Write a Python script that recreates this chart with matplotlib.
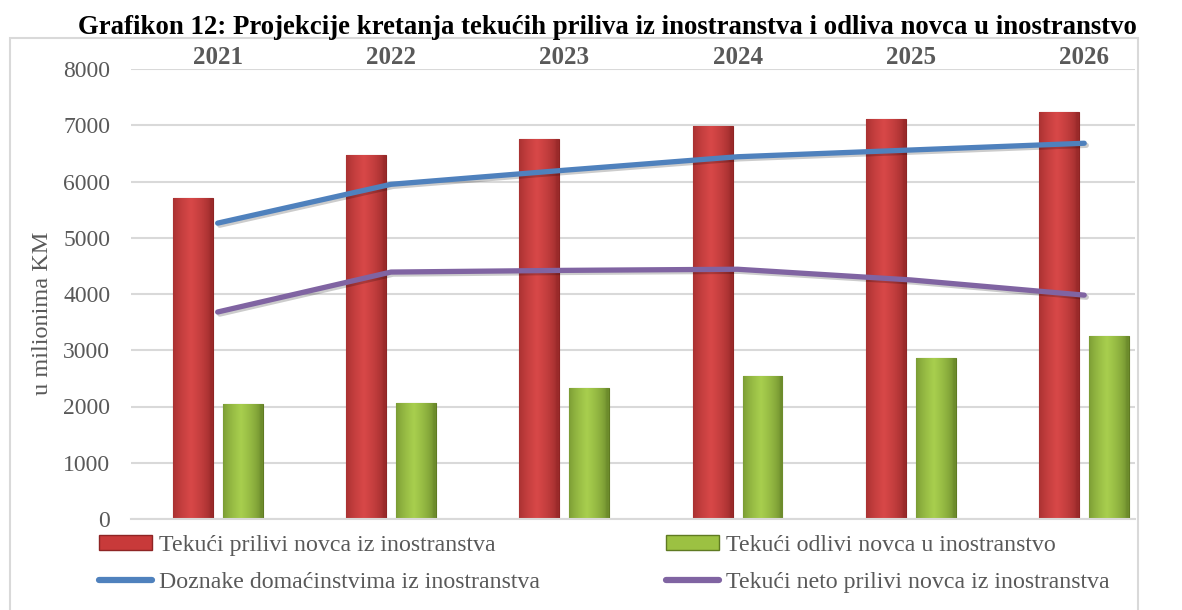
import numpy as np
import matplotlib.pyplot as plt
from matplotlib.patches import Patch, Rectangle
from matplotlib.lines import Line2D
import matplotlib.transforms as mtransforms
import matplotlib.patheffects as pe

plt.rcParams['font.family'] = ['Liberation Serif', 'DejaVu Serif']

godine = ['2021', '2022', '2023', '2024', '2025', '2026']
prilivi = [5700, 6470, 6750, 6990, 7110, 7230]
odlivi = [2040, 2060, 2330, 2540, 2860, 3250]
doznake = [5260, 5950, 6200, 6440, 6560, 6680]
neto = [3680, 4390, 4420, 4440, 4250, 3980]

serije = ['Tekući prilivi novca iz inostranstva',
          'Tekući odlivi novca u inostranstvo',
          'Doznake domaćinstvima iz inostranstva',
          'Tekući neto prilivi novca iz inostranstva']

siva = '#595959'
mreza = '#d9d9d9'


def gradijent(ax, patch, tamna, svetla):
    # horizontalni prelaz boje unutar stubca (imitacija Excel efekta)
    x0, y0 = patch.get_x(), patch.get_y()
    w, h = patch.get_width(), patch.get_height()
    t = np.linspace(0, 1, 64)
    prof = np.clip(1 - np.abs(t - 0.45) / 0.5, 0, 1) ** 0.6
    c1 = np.array(plt.matplotlib.colors.to_rgb(tamna))
    c2 = np.array(plt.matplotlib.colors.to_rgb(svetla))
    img = c1[None, :] + (c2 - c1)[None, :] * prof[:, None]
    img = img[None, :, :]
    im = ax.imshow(img, extent=(x0, x0 + w, y0, y0 + h), aspect='auto',
                   zorder=patch.get_zorder() + 0.1, interpolation='bilinear')
    im.set_clip_path(patch)


fig = plt.figure(figsize=(11.82, 6.10), dpi=100)
ax = fig.add_axes([131 / 1182, 1 - 519 / 610, 1004 / 1182, 450 / 610])

x = np.arange(len(godine))
sirina = 0.23
pomak = 0.144

b1 = ax.bar(x - pomak, prilivi, sirina, color='#c83a3a', edgecolor='#8e2424',
            linewidth=0.8, zorder=2)
b2 = ax.bar(x + pomak, odlivi, sirina, color='#9cc142', edgecolor='#5f7a22',
            linewidth=0.8, zorder=2)
for p in b1:
    gradijent(ax, p, '#9a2a2a', '#d84848')
for p in b2:
    gradijent(ax, p, '#6d8c2c', '#a8cf4e')

senka = [pe.SimpleLineShadow(offset=(1.5, -1.5), alpha=0.2), pe.Normal()]
ax.plot(x, doznake, color='#4f81bd', lw=3.8, solid_capstyle='round',
        zorder=4, path_effects=senka)
ax.plot(x, neto, color='#8064a2', lw=3.8, solid_capstyle='round',
        zorder=4, path_effects=senka)

ax.set_xlim(-0.5, 5.293)
ax.set_ylim(0, 8000)
ax.set_yticks(range(0, 8001, 1000))
ax.set_xticks([])
ax.tick_params(axis='y', length=0, pad=15, labelsize=17, labelcolor=siva)
ax.grid(axis='y', color=mreza, lw=1.5, zorder=0)
ax.set_axisbelow(True)
for s in ['top', 'right', 'left']:
    ax.spines[s].set_visible(False)
ax.spines['bottom'].set_color(mreza)
ax.spines['bottom'].set_linewidth(1.5)

trans = mtransforms.blended_transform_factory(ax.transData, fig.transFigure)
for xi, g in zip(x, godine):
    ax.text(xi, 1 - 57 / 610, g, transform=trans, ha='center', va='center',
            fontsize=18, fontweight='bold', color=siva)

ax.set_ylabel('u milionima KM', fontsize=17.5, color=siva)
ax.yaxis.set_label_coords(-0.0777, 0.458)

fig.text(0.514, 1 - 27 / 610, 'Grafikon 12: Projekcije kretanja tekućih priliva iz inostranstva i odliva novca u inostranstvo',
         ha='center', va='center', fontsize=19.3, fontweight='bold', color='black')

okvir = Rectangle((10 / 1182, -0.1), 1128 / 1182, (610 - 38) / 610 + 0.1,
                  transform=fig.transFigure, fill=False, edgecolor=mreza, lw=1.5)
fig.patches.append(okvir)

rucke = [Patch(facecolor='#c83a3a', edgecolor='#8e2424'),
         Line2D([], [], color='#4f81bd', lw=4.5, solid_capstyle='round'),
         Patch(facecolor='#9cc142', edgecolor='#5f7a22'),
         Line2D([], [], color='#8064a2', lw=4.5, solid_capstyle='round')]
natpisi = [serije[0], serije[2], serije[1], serije[3]]
leg = fig.legend(rucke, natpisi, loc='upper left', bbox_to_anchor=(99 / 1182, 1 - 535 / 610),
                 ncol=2, frameon=False, fontsize=17.2, handlelength=2.2, handleheight=0.55,
                 handletextpad=0.3, labelspacing=0.65, columnspacing=5.3, borderpad=0,
                 borderaxespad=0)
for t in leg.get_texts():
    t.set_color(siva)

fig.savefig('out.png', dpi=100)
